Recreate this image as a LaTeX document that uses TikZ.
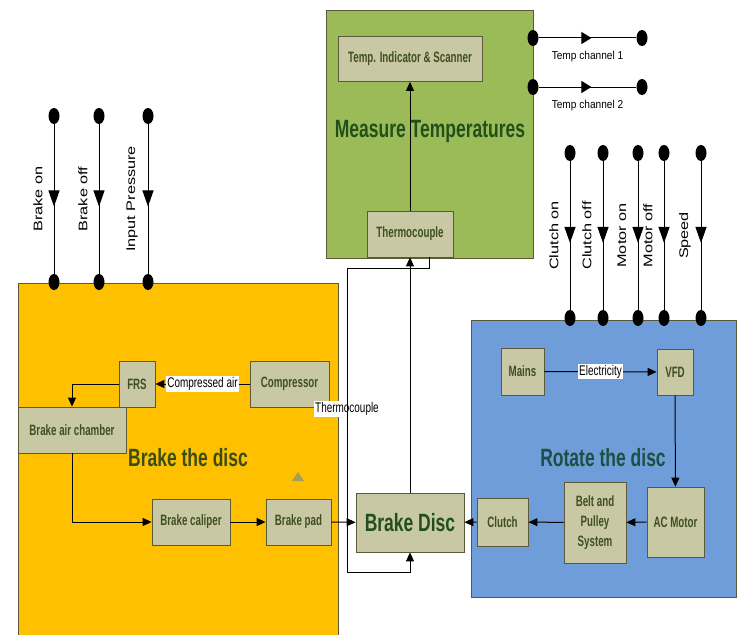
\documentclass[tikz,border=0pt]{standalone}
\usepackage{fontspec}
\setmainfont{Liberation Sans}
\newfontfamily\boxfont[FakeStretch=0.65]{Liberation Sans}
\newfontfamily\titlefont[FakeStretch=0.70]{Liberation Sans}
\newfontfamily\tagfont[FakeStretch=0.71]{Liberation Sans}
\newfontfamily\chanfont[FakeStretch=0.88]{Liberation Sans}
\newfontfamily\vertfont[FakeStretch=1.30]{Liberation Sans}
\usetikzlibrary{shapes.geometric, arrows.meta, positioning, calc, decorations.markings}
\definecolor{brakebg}{HTML}{FFC000}
\definecolor{measbg}{HTML}{9BBB59}
\definecolor{rotbg}{HTML}{6F9DD9}
\definecolor{boxbg}{HTML}{C8C8A4}
\definecolor{boxline}{HTML}{5A5A3A}
\definecolor{boxtext}{HTML}{3E5020}
\definecolor{ttlgreen}{HTML}{22501A}
\definecolor{ttlolive}{HTML}{3A4E14}
\definecolor{ttlteal}{HTML}{1D4F45}
\definecolor{stray}{HTML}{A29E55}

\begin{document}
\begin{tikzpicture}[
    x=1pt, y=-1pt,
    zone/.style={draw=boxline, line width=0.8pt},
    blk/.style={rectangle, draw=boxline, fill=boxbg, line width=0.8pt,
                inner sep=0pt, align=center, text=boxtext,
                font=\boxfont\bfseries\fontsize{15}{20}\selectfont},
    ttl/.style={font=\titlefont\bfseries\fontsize{25}{28}\selectfont, inner sep=0pt},
    dot/.style={ellipse, fill=black, inner sep=0pt,
                minimum width=11pt, minimum height=16pt},
    arr/.style={-{Triangle[length=9pt,width=8pt]}, line width=1pt},
    vsig/.style={line width=1pt, postaction={decorate},
                 decoration={markings, mark=at position 0.55 with
                   {\arrow{Triangle[length=16pt,width=11pt]}}}},
    hsig/.style={line width=1pt, postaction={decorate},
                 decoration={markings, mark=at position 0.54 with
                   {\arrow{Triangle[length=10pt,width=12pt]}}}},
    tag/.style={fill=white, inner sep=1pt,
                font=\tagfont\fontsize{14}{16}\selectfont},
    ctag/.style={midway, below=13pt, inner sep=0pt,
                 font=\chanfont\fontsize{11.5}{13}\selectfont},
    vtag/.style={midway, xshift=-16pt, rotate=90, inner sep=0pt,
                 font=\vertfont\fontsize{12.5}{14}\selectfont}
]
    \useasboundingbox (0,0) rectangle (741,634);

    % the three sub-systems
    \filldraw[zone, fill=brakebg] (18,283) rectangle (338,640);
    \filldraw[zone, fill=measbg]  (326,10) rectangle (533,258);
    \filldraw[zone, fill=rotbg]   (471,320) rectangle (736,597);

    \node[ttl, text=ttlgreen] (measttl) at (430,131) {Measure Temperatures};
    \node[ttl, text=ttlolive] (brakettl) at (188,458) {Brake the disc};
    \node[ttl, text=ttlteal]  (rotttl)  at (603,458) {Rotate the disc};
    \fill[stray] (292,481) -- (298,472) -- (304,481) -- cycle;

    % measuring side
    \node[blk, minimum width=144pt, minimum height=45pt] (tis) at (410,59)  {Temp. Indicator \& Scanner};
    \node[blk, minimum width=86pt,  minimum height=46pt] (thc) at (410,234) {Thermocouple};

    % braking side
    \node[blk, minimum width=36pt,  minimum height=46pt] (frs)  at (137,384)   {FRS};
    \node[blk, minimum width=79pt,  minimum height=46pt] (comp) at (289.5,384) {Compressor};
    \node[blk, minimum width=108pt, minimum height=46pt] (bac)  at (72,430)    {Brake air chamber};
    \node[blk, minimum width=78pt,  minimum height=46pt] (cal)  at (191,522)   {Brake caliper};
    \node[blk, minimum width=65pt,  minimum height=46pt] (pad)  at (298.5,522) {Brake pad};

    \node[blk, minimum width=108pt, minimum height=59pt,
          font=\titlefont\bfseries\fontsize{25}{28}\selectfont, text=ttlgreen] (disc) at (410,522.5) {Brake Disc};

    % rotating side
    \node[blk, minimum width=43pt, minimum height=47pt] (mains)  at (522.5,371.5) {Mains};
    \node[blk, minimum width=36pt, minimum height=46pt] (vfd)    at (675,372)     {VFD};
    \node[blk, minimum width=57pt, minimum height=70pt] (acm)    at (675.5,522)   {AC Motor};
    \node[blk, minimum width=62pt, minimum height=81pt] (belt)   at (595,522.5)   {Belt and\\Pulley\\System};
    \node[blk, minimum width=51pt, minimum height=48pt] (clutch) at (502.5,522)   {Clutch};

    \node[tag] (tctag) at (347,409) {Thermocouple};

    % flows
    \draw[arr] (comp) -- node[tag] (airtag) {Compressed air} (frs);
    \draw[arr] (frs.west) -| (bac.north);
    \draw[arr] (bac.south) |- (cal.west);
    \draw[arr] (cal) -- (pad);
    \draw[arr] (pad) -- (disc);

    \draw[arr] (mains) -- node[tag] (eltag) {Electricity} (vfd);
    \draw[arr] (vfd) -- (acm);
    \draw[arr] (acm) -- (belt);
    \draw[arr] (belt) -- (clutch);
    \draw[arr] (clutch) -- (disc);

    \draw[arr] (disc.north) -- (thc.south);
    \draw[arr] (thc) -- (tis);

    \coordinate (tcout)  at ([xshift=19pt]thc.south);
    \coordinate (loopnw) at (347,268);
    \coordinate (loopsw) at (347,572);
    \draw[arr] (tcout) |- (loopnw) -- (loopsw) -| (disc.south);

    % brake inputs
    \node[dot] (bon1) at (54,116)  {};  \node[dot] (bon2) at (54,282)  {};
    \node[dot] (bof1) at (99,116)  {};  \node[dot] (bof2) at (99,282)  {};
    \node[dot] (inp1) at (148,116) {};  \node[dot] (inp2) at (148,282) {};
    \draw[vsig] (bon1) -- node[vtag] {Brake on} (bon2);
    \draw[vsig] (bof1) -- node[vtag] {Brake off} (bof2);
    \draw[vsig] (inp1) -- node[vtag] {Input Pressure} (inp2);

    % temperature outputs
    \node[dot] (tc1a) at (533,38) {};  \node[dot] (tc1b) at (642,38) {};
    \node[dot] (tc2a) at (533,87) {};  \node[dot] (tc2b) at (642,87) {};
    \draw[hsig] (tc1a) -- node[ctag] {Temp channel 1} (tc1b);
    \draw[hsig] (tc2a) -- node[ctag] {Temp channel 2} (tc2b);

    % motor inputs
    \node[dot] (con1) at (570,153) {};  \node[dot] (con2) at (570,318) {};
    \node[dot] (cof1) at (603,153) {};  \node[dot] (cof2) at (603,318) {};
    \node[dot] (mon1) at (638,153) {};  \node[dot] (mon2) at (638,318) {};
    \node[dot] (mof1) at (664,153) {};  \node[dot] (mof2) at (664,318) {};
    \node[dot] (spd1) at (701,153) {};  \node[dot] (spd2) at (701,318) {};
    \draw[vsig] (con1) -- node[vtag] {Clutch on} (con2);
    \draw[vsig] (cof1) -- node[vtag] {Clutch off} (cof2);
    \draw[vsig] (mon1) -- node[vtag] {Motor on} (mon2);
    \draw[vsig] (mof1) -- node[vtag] {Motor off} (mof2);
    \draw[vsig] (spd1) -- node[vtag] {Speed} (spd2);
\end{tikzpicture}
\end{document}
